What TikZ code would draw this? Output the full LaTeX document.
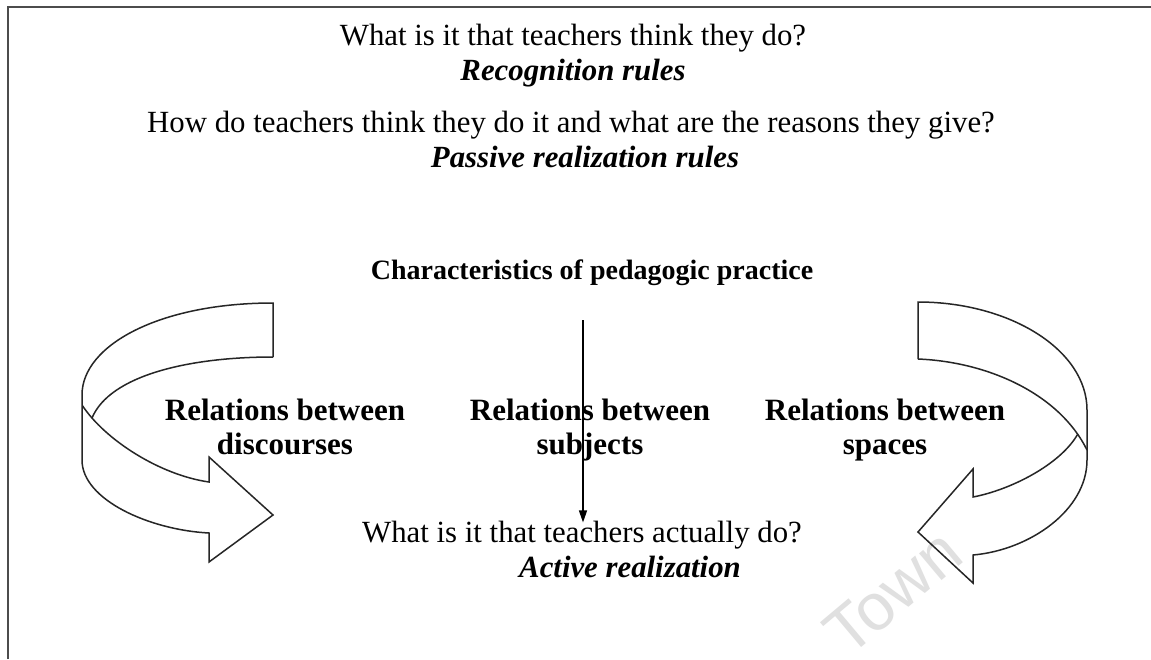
\documentclass[tikz,border=0pt]{standalone}
\usepackage{fontspec}
\setmainfont{Liberation Serif}
\newfontfamily\wmfont{Liberation Sans}
\usetikzlibrary{arrows.meta}
\begin{document}
\begin{tikzpicture}[x=1pt,y=-1pt,
  reg/.style={font=\fontsize{30.8}{36}\selectfont, inner sep=0pt, anchor=base},
  bi/.style={reg, font=\fontsize{30.8}{36}\selectfont\bfseries\itshape},
  bd/.style={reg, font=\fontsize{31}{36}\selectfont\bfseries},
  ribbon/.style={draw=black!85, line width=1.5pt, line join=miter},
  frameline/.style={draw=black!70, line width=1.6pt},
  conn/.style={draw=black, line width=1.3pt, -{Triangle[length=12pt,width=8pt]}},
  wm/.style={text=black!12, font=\wmfont\fontsize{66}{66}\selectfont, inner sep=0pt}]
\clip (0,0) rectangle (1151,659);
\fill[white] (0,0) rectangle (1151,659);
% watermark
\node[wm, rotate=40] (wmark) at (893,592) {Town};
% frame (left and top edges)
\draw[frameline] (8,659) -- (8,7) -- (1151,7);
% texts
\node[reg] (q1) at (573,45) {What is it that teachers think they do?};
\node[bi]  (r1) at (573,80) {Recognition rules};
\node[reg] (q2) at (571,132) {How do teachers think they do it and what are the reasons they give?};
\node[bi]  (r2) at (585,167) {Passive realization rules};
\node[bd, font=\fontsize{28}{33}\selectfont\bfseries]  (char) at (592,279) {Characteristics of pedagogic practice};
\node[bd]  (d1) at (285,420) {Relations between};
\node[bd]  (d2) at (285,454) {discourses};
\node[bd]  (s1) at (590,420) {Relations between};
\node[bd]  (s2) at (590,454) {subjects};
\node[bd]  (p1) at (885,420) {Relations between};
\node[bd]  (p2) at (885,454) {spaces};
\node[reg] (q3) at (582,542) {What is it that teachers actually do?};
\node[bi]  (r3) at (630,577) {Active realization};
% vertical arrow
\coordinate (arrtop) at (583,320);
\draw[conn] (arrtop) -- ([yshift=-2pt]arrtop |- q3.north);
% left curved arrow
\draw[ribbon] (273,357) -- (273,303)
  .. controls (160,303) and (82,345) .. (82,395)
  -- (82,460)
  .. controls (82,500) and (150,530) .. (209,533)
  -- (209,562) -- (273,515) -- (209,457) -- (209,482)
  .. controls (160,475) and (105,440) .. (82,405);
\draw[ribbon] (273,357) .. controls (190,357) and (110,375) .. (92,418);
% right curved arrow
\draw[ribbon] (918,359) -- (918,302)
  .. controls (1010,302) and (1087,350) .. (1087,410)
  -- (1087,460)
  .. controls (1087,510) and (1030,550) .. (973,555)
  -- (973,583) -- (918,532) -- (973,469) -- (973,497)
  .. controls (1010,490) and (1060,465) .. (1077.7,434.2);
\draw[ribbon] (918,359) .. controls (990,362) and (1060,395) .. (1087,450);
\end{tikzpicture}
\end{document}
